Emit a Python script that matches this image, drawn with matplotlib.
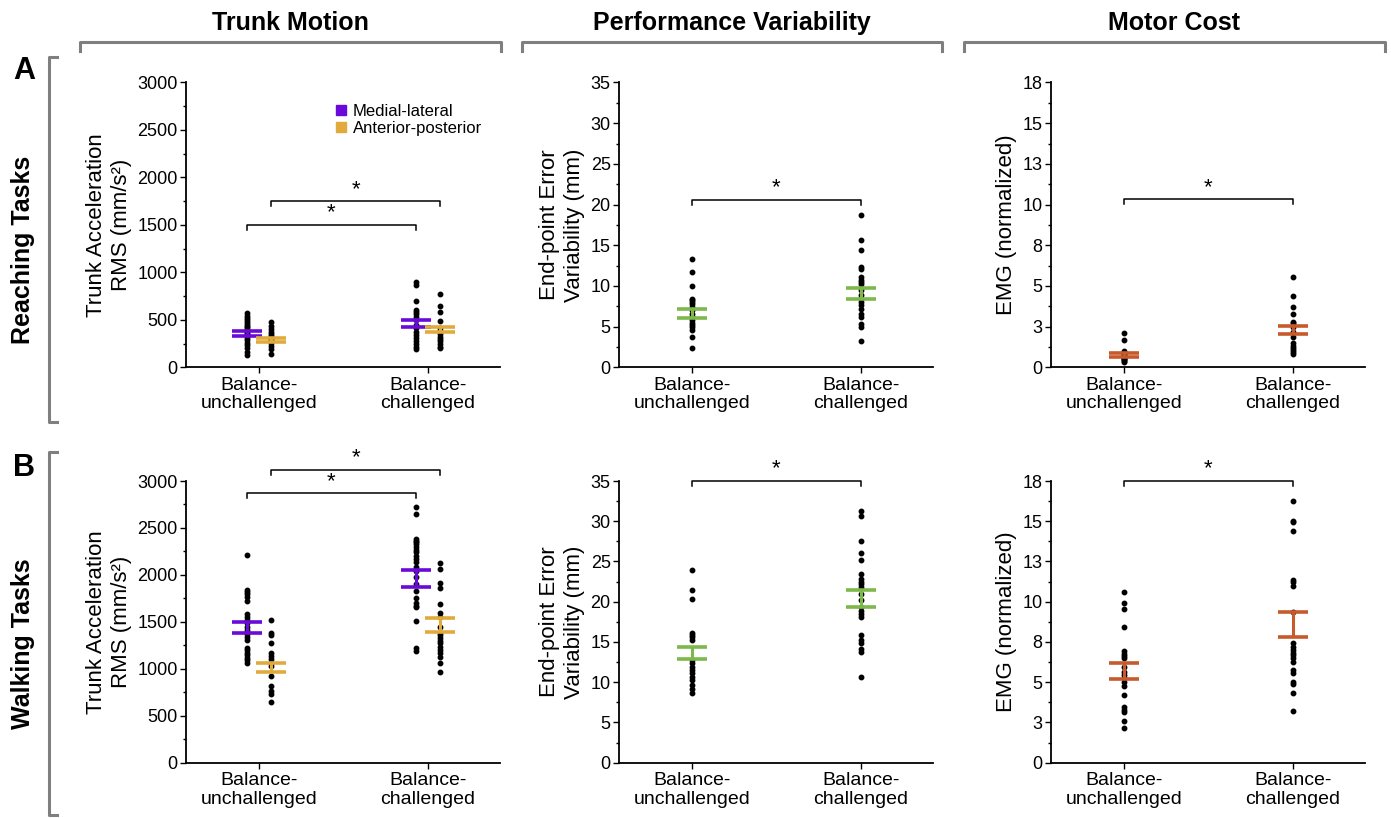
import numpy as np
import matplotlib
matplotlib.use("Agg")
import matplotlib.pyplot as plt
from matplotlib.lines import Line2D
from matplotlib.ticker import MultipleLocator

plt.rcParams["font.family"] = ["Liberation Sans", "DejaVu Sans"]

# ---- data ----
conditions = ["Balance-\nunchallenged", "Balance-\nchallenged"]
series_names = ["Medial-lateral", "Anterior-posterior"]

# reaching, trunk acceleration RMS (mm/s^2)
reach_ml_unch = [570, 545, 520, 500, 480, 460, 440, 420, 400, 380, 365, 350, 330, 310, 290, 260, 230, 200, 160, 125]
reach_ap_unch = [474, 439, 404, 369, 351, 333, 312, 300, 288, 270, 253, 224, 193, 140]
reach_ml_chal = [902, 867, 699, 604, 579, 558, 533, 499, 446, 411, 375, 340, 305, 277, 246, 217, 190]
reach_ap_chal = [769, 649, 579, 491, 411, 383, 351, 323, 298, 280, 246, 217, 200]
reach_ml_mean = [358, 460]
reach_ml_se = [25, 38]
reach_ap_mean = [288, 397]
reach_ap_se = [18, 25]

# walking, trunk acceleration RMS (mm/s^2)
walk_ml_unch = [2215, 1843, 1818, 1793, 1765, 1719, 1580, 1552, 1516, 1488, 1445, 1410, 1374, 1339, 1303,
                1221, 1197, 1172, 1143, 1115, 1090, 1062]
walk_ap_unch = [1520, 1378, 1360, 1271, 1165, 1136, 1101, 1062, 1030, 923, 817, 764, 728, 650]
walk_ml_chal = [2728, 2650, 2383, 2365, 2348, 2330, 2301, 2269, 2241, 2205, 2170, 2134, 2088, 2045, 1974,
                1903, 1832, 1754, 1697, 1672, 1654, 1505, 1221, 1193]
walk_ap_chal = [2123, 2059, 1910, 1863, 1687, 1591, 1555, 1448, 1385, 1360, 1325, 1296, 1271, 1236, 1200,
                1165, 1129, 1058, 969]
walk_ml_mean = [1441, 1963]
walk_ml_se = [60, 89]
walk_ap_mean = [1018, 1463]
walk_ap_se = [48, 75]

# end-point error variability (mm)
reach_err_unch = [13.35, 11.71, 9.96, 8.45, 8.24, 8.04, 7.76, 7.43, 7.02, 6.61, 6.20, 5.79, 5.46, 5.18,
                  4.90, 4.57, 3.75, 2.33]
reach_err_chal = [18.66, 15.59, 14.37, 12.32, 12.04, 11.10, 10.78, 10.49, 10.20, 9.55, 8.86, 8.45, 8.04,
                  7.63, 7.11, 6.61, 6.20, 5.30, 4.97, 3.26]
reach_err_mean = [6.6, 9.07]
reach_err_se = [0.52, 0.73]

walk_err_unch = [23.93, 21.45, 20.29, 16.15, 15.86, 15.57, 15.24, 12.76, 12.34, 11.93, 11.52, 11.10,
                 10.68, 10.27, 9.65, 9.11, 8.69]
walk_err_chal = [31.3, 30.7, 27.5, 26.0, 25.2, 23.5, 22.8, 22.5, 22.2, 21.8, 21.0, 20.2, 19.4, 18.9, 18.5,
                 18.1, 15.9, 15.2, 14.9, 14.1, 13.7, 10.7]
walk_err_mean = [13.6, 20.4]
walk_err_se = [0.77, 1.07]

# EMG (normalized)
reach_emg_unch = [2.09, 1.66, 1.0, 0.95, 0.9, 0.86, 0.8, 0.75, 0.7, 0.65, 0.6, 0.55, 0.51, 0.45, 0.4, 0.35]
reach_emg_chal = [5.57, 4.40, 3.73, 3.26, 2.80, 2.71, 2.50, 2.19, 1.88, 1.48, 1.33, 1.21, 1.06, 0.92, 0.80]
reach_emg_mean = [0.75, 2.3]
reach_emg_se = [0.12, 0.25]

walk_emg_unch = [10.62, 9.94, 9.52, 8.45, 6.96, 6.75, 6.63, 6.48, 5.96, 5.65, 5.45, 5.24, 5.03, 4.76,
                 4.20, 3.44, 3.27, 3.13, 2.61, 2.14]
walk_emg_chal = [16.27, 15.03, 14.93, 14.39, 11.35, 11.24, 10.97, 9.38, 7.41, 7.20, 7.00, 6.83, 6.68,
                 6.48, 6.27, 5.75, 5.58, 5.03, 4.92, 4.34, 3.23]
walk_emg_mean = [5.7, 8.56]
walk_emg_se = [0.47, 0.78]

# significance brackets: (x_start, x_end, height)
reach_trunk_sig = [(-0.072, 0.928, 1500), (0.072, 1.072, 1750)]
walk_trunk_sig = [(-0.072, 0.928, 2870), (0.072, 1.072, 3120)]
reach_err_sig = [(0, 1, 20.6)]
walk_err_sig = [(0, 1, 35)]
reach_emg_sig = [(0, 1, 10.33)]
walk_emg_sig = [(0, 1, 17.5)]

# ---- styling ----
PURPLE = "#6a0ad8"
GOLD = "#e0ab3c"
GREEN = "#7cb84a"
ORANGE = "#c65a2a"

W, H = 1391, 818


def fx(px):
    return px / W


def fy(py):
    return 1 - py / H


def scatter_group(ax, x, values, err_mean, err_se, color):
    ax.plot(np.full(len(values), x), values, "o", color="black", ms=3.2, zorder=3, clip_on=False)
    ax.errorbar(x, err_mean, yerr=err_se, color=color, elinewidth=2.2, capsize=11,
                capthick=2.6, fmt="none", zorder=4)


def sig_brackets(ax, brackets, yrange):
    leg = 0.018 * yrange
    for x0, x1, y in brackets:
        ax.plot([x0, x0, x1, x1], [y - leg, y, y, y - leg], color="black", lw=1.1, clip_on=False, zorder=5)
        ax.annotate("*", xy=((x0 + x1) / 2, y), xytext=(0, 1), textcoords="offset points",
                    ha="center", va="bottom", fontsize=16, annotation_clip=False)


def style_axis(ax, ymax, major, ylabel, ticklabels=None):
    ax.set_xlim(-0.432, 1.426)
    ax.set_ylim(0, ymax)
    ax.set_xticks([0, 1])
    ax.set_xticklabels(conditions, fontsize=14, linespacing=1.1)
    ax.yaxis.set_major_locator(MultipleLocator(major))
    ax.yaxis.set_minor_locator(MultipleLocator(major / 2))
    if ticklabels is not None:
        ax.set_yticks(np.arange(0, ymax + 0.01, major))
        ax.set_yticklabels(ticklabels)
    ax.tick_params(axis="y", which="major", length=4, width=1, labelsize=13, pad=2)
    ax.tick_params(axis="y", which="minor", length=2.5, width=1)
    ax.tick_params(axis="x", length=4, width=1, pad=3)
    for side in ["top", "right"]:
        ax.spines[side].set_visible(False)
    for side in ["left", "bottom"]:
        ax.spines[side].set_linewidth(1.3)
    ax.set_ylabel(ylabel, fontsize=16, linespacing=1.25)


def main():
    fig = plt.figure(figsize=(W / 100, H / 100), dpi=100)

    lefts = [fx(186), fx(619), fx(1051)]
    width = fx(314)
    top_row = (fy(367.3), 284.8 / H)
    bot_row = (fy(762.7), 281.7 / H)

    axes = {}
    for r, (bottom, height) in enumerate([top_row, bot_row]):
        for c, left in enumerate(lefts):
            axes[(r, c)] = fig.add_axes([left, bottom, width, height])

    off = 0.072
    trunk_label = "Trunk Acceleration\nRMS (mm/s²)"
    err_label = "End-point Error\nVariability (mm)"
    emg_label = "EMG (normalized)"
    emg_ticks = ["0", "3", "5", "8", "10", "13", "15", "18"]

    # trunk motion
    for r, (ml_u, ap_u, ml_c, ap_c, ml_m, ml_s, ap_m, ap_s, sig) in enumerate([
        (reach_ml_unch, reach_ap_unch, reach_ml_chal, reach_ap_chal,
         reach_ml_mean, reach_ml_se, reach_ap_mean, reach_ap_se, reach_trunk_sig),
        (walk_ml_unch, walk_ap_unch, walk_ml_chal, walk_ap_chal,
         walk_ml_mean, walk_ml_se, walk_ap_mean, walk_ap_se, walk_trunk_sig),
    ]):
        ax = axes[(r, 0)]
        for i, (ml, ap) in enumerate([(ml_u, ap_u), (ml_c, ap_c)]):
            scatter_group(ax, i - off, ml, ml_m[i], ml_s[i], PURPLE)
            scatter_group(ax, i + off, ap, ap_m[i], ap_s[i], GOLD)
        style_axis(ax, 3000, 500, trunk_label)
        sig_brackets(ax, sig, 3000)

    # performance variability
    for r, (u, c, m, s, sig) in enumerate([
        (reach_err_unch, reach_err_chal, reach_err_mean, reach_err_se, reach_err_sig),
        (walk_err_unch, walk_err_chal, walk_err_mean, walk_err_se, walk_err_sig),
    ]):
        ax = axes[(r, 1)]
        for i, vals in enumerate([u, c]):
            scatter_group(ax, i, vals, m[i], s[i], GREEN)
        style_axis(ax, 35, 5, err_label)
        sig_brackets(ax, sig, 35)

    # motor cost
    for r, (u, c, m, s, sig) in enumerate([
        (reach_emg_unch, reach_emg_chal, reach_emg_mean, reach_emg_se, reach_emg_sig),
        (walk_emg_unch, walk_emg_chal, walk_emg_mean, walk_emg_se, walk_emg_sig),
    ]):
        ax = axes[(r, 2)]
        for i, vals in enumerate([u, c]):
            scatter_group(ax, i, vals, m[i], s[i], ORANGE)
        style_axis(ax, 17.5, 2.5, emg_label, emg_ticks)
        sig_brackets(ax, sig, 17.5)

    # legend in the top-left panel
    handles = [Line2D([], [], marker="s", ls="", color=PURPLE, ms=7),
               Line2D([], [], marker="s", ls="", color=GOLD, ms=7)]
    axes[(0, 0)].legend(handles, series_names, loc="upper left", frameon=False, fontsize=12,
                        handlelength=0.8, handletextpad=0.3, labelspacing=0.15, borderaxespad=0,
                        bbox_to_anchor=(fx(328), fy(97)), bbox_transform=fig.transFigure)

    # column headers with gray brackets
    gray = "#7f7f7f"
    headers = ["Trunk Motion", "Performance Variability", "Motor Cost"]
    spans = [(80, 501), (522, 942), (964, 1385)]
    for text, (x0, x1) in zip(headers, spans):
        fig.text(fx((x0 + x1) / 2), fy(23), text, ha="center", va="center",
                 fontsize=18, fontweight="bold")
        fig.add_artist(Line2D([fx(x0), fx(x0), fx(x1), fx(x1)], [fy(51), fy(42), fy(42), fy(51)],
                              color=gray, lw=2.2))

    # row brackets and labels
    rows = [("A", "Reaching Tasks", 57, 422, 71, 250), ("B", "Walking Tasks", 452, 815, 468, 644)]
    for letter, label, y0, y1, ly, cy in rows:
        fig.add_artist(Line2D([fx(57), fx(49), fx(49), fx(57)], [fy(y0), fy(y0), fy(y1), fy(y1)],
                              color=gray, lw=2.2))
        fig.text(fx(24), fy(ly), letter, ha="center", va="center", fontsize=22, fontweight="bold")
        fig.text(fx(23), fy(cy), label, ha="center", va="center", rotation=90,
                 fontsize=18, fontweight="bold")

    fig.savefig("out.png", dpi=100)


if __name__ == "__main__":
    main()
